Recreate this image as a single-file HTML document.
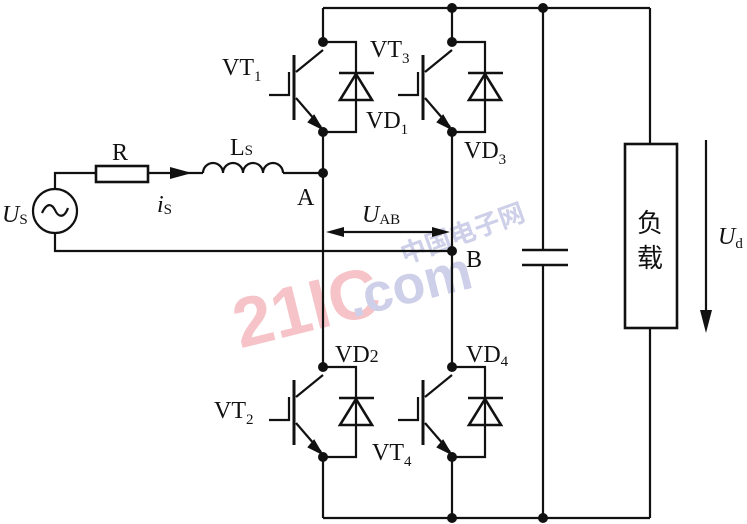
<!DOCTYPE html>
<html><head><meta charset="utf-8"><style>
html,body{margin:0;padding:0;background:#fff;}
svg{display:block;}
text{font-family:"Liberation Serif",serif;fill:#111;}
</style></head><body>
<svg width="747" height="524" viewBox="0 0 747 524" xmlns="http://www.w3.org/2000/svg">
<defs>
<g id="sw" stroke="#111" stroke-width="2.2" fill="none">
  <line x1="-29" y1="13" x2="-29" y2="78" stroke-width="3"/>
  <polyline points="-54,53 -34,53 -34,30"/>
  <line x1="-27" y1="30" x2="0" y2="8"/>
  <line x1="-27" y1="56" x2="-2" y2="85"/>
  <polygon points="-2,86 -14,80 -9,74" fill="#111"/>
  <polyline points="0,0 33,0 33,90 0,90"/>
  <line x1="16" y1="31" x2="51" y2="31" stroke-width="2.6"/>
  <polygon points="33,32 17,58 49,58" stroke-width="2.6"/>
  <circle cx="0" cy="0" r="5" fill="#111" stroke="none"/>
  <circle cx="0" cy="90" r="5" fill="#111" stroke="none"/>
</g>
</defs>
<!-- watermark -->
<text x="230" y="335" transform="rotate(-14 290 300)" style="font-family:'Liberation Sans',sans-serif;font-weight:bold;font-size:70px;fill:#f6c4c8">21IC</text>
<text x="345" y="305" transform="rotate(-14 400 280)" style="font-family:'Liberation Sans',sans-serif;font-weight:bold;font-size:54px;fill:#cdd0e8">.com</text>
<text x="395" y="250" transform="rotate(-20 440 230)" style="font-family:'Noto Sans CJK SC',sans-serif;font-weight:bold;font-size:26px;fill:#cdd0e8">中国电子网</text>

<g stroke="#111" stroke-width="2.2" fill="none">
  <line x1="323" y1="8" x2="650" y2="8"/>
  <line x1="323" y1="518" x2="650" y2="518"/>
  <line x1="323" y1="8" x2="323" y2="42"/>
  <line x1="452" y1="8" x2="452" y2="42"/>
  <line x1="323" y1="132" x2="323" y2="367"/>
  <line x1="452" y1="132" x2="452" y2="367"/>
  <line x1="323" y1="457" x2="323" y2="518"/>
  <line x1="452" y1="457" x2="452" y2="518"/>
  <line x1="543" y1="8" x2="543" y2="250"/>
  <line x1="543" y1="265" x2="543" y2="518"/>
  <line x1="522" y1="250" x2="568" y2="250" stroke-width="2.6"/>
  <line x1="522" y1="265" x2="568" y2="265" stroke-width="2.6"/>
  <line x1="650" y1="8" x2="650" y2="144"/>
  <line x1="650" y1="328" x2="650" y2="518"/>
  <rect x="625" y="144" width="52" height="184" stroke-width="2.6"/>
  <line x1="706" y1="140" x2="706" y2="325"/>
  <circle cx="55" cy="211" r="22"/>
  <path d="M42,213 C47,202 52,204 55,210 C58,217 64,219 68,208"/>
  <polyline points="55,189 55,173 96,173"/>
  <rect x="96" y="166" width="52" height="16" stroke-width="2.6"/>
  <line x1="148" y1="173" x2="203" y2="173"/>
  <path d="M203,173 a10,10 0 0 1 20,0 a10,10 0 0 1 20,0 a10,10 0 0 1 20,0 a10,10 0 0 1 20,0"/>
  <line x1="283" y1="173" x2="323" y2="173"/>
  <polyline points="55,233 55,251 452,251"/>
  <line x1="335" y1="232" x2="442" y2="232"/>
</g>
<polygon points="192,173 170,167 170,179" fill="#111"/>
<polygon points="326,232 344,227 344,237" fill="#111"/>
<polygon points="450,232 432,227 432,237" fill="#111"/>
<polygon points="706,333 700,310 712,310" fill="#111"/>
<circle cx="323" cy="173" r="5" fill="#111"/>
<circle cx="452" cy="251" r="5" fill="#111"/>
<circle cx="452" cy="8" r="5" fill="#111"/>
<circle cx="543" cy="8" r="5" fill="#111"/>
<circle cx="452" cy="518" r="5" fill="#111"/>
<circle cx="543" cy="518" r="5" fill="#111"/>

<use href="#sw" x="323" y="42"/>
<use href="#sw" x="452" y="42"/>
<use href="#sw" x="323" y="367"/>
<use href="#sw" x="452" y="367"/>

<g font-size="24">
<text x="222" y="75">VT<tspan font-size="15" dy="6">1</tspan></text>
<text x="370" y="57">VT<tspan font-size="15" dy="6">3</tspan></text>
<text x="366" y="128">VD<tspan font-size="15" dy="6">1</tspan></text>
<text x="464" y="158">VD<tspan font-size="15" dy="6">3</tspan></text>
<text x="335" y="362">VD<tspan font-size="18">2</tspan></text>
<text x="466" y="362">VD<tspan font-size="15" dy="4">4</tspan></text>
<text x="214" y="418">VT<tspan font-size="15" dy="6">2</tspan></text>
<text x="372" y="460">VT<tspan font-size="15" dy="6">4</tspan></text>
<text x="112" y="160">R</text>
<text x="230" y="155">L<tspan font-size="15">S</tspan></text>
<text x="297" y="205">A</text>
<text x="466" y="267">B</text>
<text x="157" y="212" font-style="italic">i<tspan font-size="15" font-style="normal" dy="2">S</tspan></text>
<text x="2" y="222" font-style="italic">U<tspan font-size="15" font-style="normal" dy="2">S</tspan></text>
<text x="362" y="222" font-style="italic">U<tspan font-size="15" font-style="normal" dy="2">AB</tspan></text>
<text x="718" y="244" font-style="italic">U<tspan font-size="15" font-style="normal" dy="4">d</tspan></text>
</g>
<text x="637" y="232" style="font-family:'Noto Sans CJK SC',sans-serif;font-size:26px">负</text>
<text x="637" y="267" style="font-family:'Noto Sans CJK SC',sans-serif;font-size:26px">载</text>
</svg>
</body></html>
